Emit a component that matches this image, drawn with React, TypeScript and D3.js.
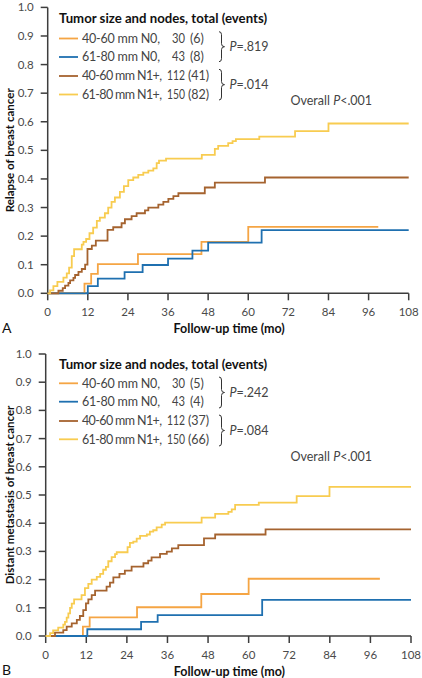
import React from 'react';
import * as d3 from 'd3';

// ---------- shared data ----------
const monthTicks = [0, 12, 24, 36, 48, 60, 72, 84, 96, 108];
const riskTicks = [0, 0.1, 0.2, 0.3, 0.4, 0.5, 0.6, 0.7, 0.8, 0.9, 1.0];
const groupLabels = ['40-60 mm N0,', '61-80 mm N0,', '40-60 mm N1+,', '61-80 mm N1+,'];
const groupTotals = [30, 43, 112, 150];
const groupColors = ['#F5A544', '#1F70B0', '#A5632F', '#F8CC50'];
const legendTitle = 'Tumor size and nodes, total (events)';
const xTitle = 'Follow-up time (mo)';

// ---------- panel A: relapse ----------
const relapseEvents = [6, 8, 41, 82];
const relapsePValues = ['.819', '.014'];
const relapseYTitle = 'Relapse of breast cancer';

const relapseSmallN0Times = [11, 13, 15, 27, 46, 60];
const relapseSmallN0Values = [0.034, 0.068, 0.102, 0.137, 0.18, 0.232];
const relapseSmallN0End = 98.9;

const relapseLargeN0Times = [12, 15, 23, 28.4, 36, 43.3, 48, 64];
const relapseLargeN0Values = [0.025, 0.051, 0.074, 0.099, 0.121, 0.149, 0.177, 0.221];
const relapseLargeN0End = 108;

const relapseSmallN1Times = [3.2, 4.5, 5.2, 6.2, 6.7, 7.7, 8.2, 9.2, 10.2, 11.2, 11.9, 13.2, 14.4, 17.9, 19.6, 22.1, 23.1, 25.1, 26.6, 29.1, 30.1, 33.1, 34.6, 36.1, 37.6, 39.1, 47, 50, 65];
const relapseSmallN1Values = [0.009, 0.018, 0.027, 0.036, 0.045, 0.054, 0.064, 0.075, 0.085, 0.1, 0.155, 0.167, 0.184, 0.222, 0.231, 0.245, 0.259, 0.27, 0.28, 0.29, 0.3, 0.31, 0.32, 0.33, 0.34, 0.35, 0.37, 0.387, 0.405];
const relapseSmallN1End = 108;

const relapseLargeN1Times = [0.7, 1.7, 2.9, 4.7, 5.7, 6.4, 7.2, 7.9, 10.2, 10.7, 11.5, 12.5, 13.6, 14.7, 15.6, 17.1, 18.1, 19.1, 20.1, 21.6, 22.8, 24.1, 25.6, 27.1, 28.6, 30.1, 31.6, 32.6, 33.3, 35.4, 46.1, 50, 51, 54, 55.3, 56.3, 63.3, 74, 84];
const relapseLargeN1Values = [0.01, 0.025, 0.04, 0.055, 0.07, 0.09, 0.13, 0.154, 0.17, 0.18, 0.19, 0.21, 0.23, 0.253, 0.265, 0.28, 0.3, 0.32, 0.335, 0.355, 0.375, 0.396, 0.405, 0.414, 0.422, 0.429, 0.437, 0.455, 0.464, 0.471, 0.484, 0.505, 0.516, 0.525, 0.532, 0.539, 0.548, 0.567, 0.594];
const relapseLargeN1End = 108;

// ---------- panel B: distant metastasis ----------
const metastasisEvents = [5, 4, 37, 66];
const metastasisPValues = ['.242', '.084'];
const metastasisYTitle = 'Distant metastasis of breast cancer';

const metaSmallN0Times = [11, 13, 27, 46, 60];
const metaSmallN0Values = [0.033, 0.066, 0.102, 0.149, 0.203];
const metaSmallN0End = 98.8;

const metaLargeN0Times = [12.3, 28.2, 33.1, 64];
const metaLargeN0Values = [0.024, 0.05, 0.074, 0.128];
const metaLargeN0End = 108;

const metaSmallN1Times = [2.75, 5.2, 6.2, 7.7, 9.2, 10.1, 11.1, 11.9, 12.6, 13.6, 14.6, 18, 19, 20, 21.8, 23.4, 25.4, 28.9, 30.3, 31.3, 33.8, 35.8, 37.3, 39.2, 46.8, 50.1, 65];
const metaSmallN1Values = [0.012, 0.021, 0.033, 0.045, 0.057, 0.071, 0.092, 0.116, 0.13, 0.145, 0.161, 0.175, 0.189, 0.208, 0.22, 0.232, 0.246, 0.258, 0.267, 0.279, 0.291, 0.299, 0.311, 0.322, 0.346, 0.36, 0.378];
const metaSmallN1End = 108;

const metaLargeN1Times = [1.3, 2.2, 3.7, 5.2, 5.7, 6.2, 6.7, 7.2, 7.7, 8.4, 10.6, 11.6, 12.6, 13.6, 15.1, 16.1, 17, 17.8, 18.5, 19.5, 20.5, 21, 24.2, 24.9, 25.9, 26.9, 27.9, 29.9, 30.8, 31.8, 32.8, 34.3, 35.3, 46.1, 50.1, 54, 55, 56, 63, 74.2, 83.9];
const metaLargeN1Values = [0.01, 0.02, 0.03, 0.04, 0.05, 0.065, 0.08, 0.1, 0.115, 0.13, 0.145, 0.17, 0.185, 0.2, 0.21, 0.22, 0.235, 0.245, 0.265, 0.28, 0.29, 0.297, 0.315, 0.33, 0.335, 0.345, 0.355, 0.36, 0.37, 0.375, 0.385, 0.395, 0.402, 0.42, 0.433, 0.44, 0.449, 0.465, 0.473, 0.496, 0.529];
const metaLargeN1End = 108;

type Series = { times: number[]; values: number[]; end: number };

const relapseSeries: Series[] = [
  { times: relapseSmallN0Times, values: relapseSmallN0Values, end: relapseSmallN0End },
  { times: relapseLargeN0Times, values: relapseLargeN0Values, end: relapseLargeN0End },
  { times: relapseSmallN1Times, values: relapseSmallN1Values, end: relapseSmallN1End },
  { times: relapseLargeN1Times, values: relapseLargeN1Values, end: relapseLargeN1End },
];
const metastasisSeries: Series[] = [
  { times: metaSmallN0Times, values: metaSmallN0Values, end: metaSmallN0End },
  { times: metaLargeN0Times, values: metaLargeN0Values, end: metaLargeN0End },
  { times: metaSmallN1Times, values: metaSmallN1Values, end: metaSmallN1End },
  { times: metaLargeN1Times, values: metaLargeN1Values, end: metaLargeN1End },
];

const FONT = "Lato, 'Open Sans', 'DejaVu Sans', sans-serif";
const labelWidths = [78, 78, 80, 80];
const totalWidths = [13, 13, 18, 18];

type Layout = {
  xLeft: number; xRight: number; yZero: number; yOne: number;
  titleY: number; rowY: number[]; braces: number[][]; overallY: number;
  xTitleY: number; letter: string; letterY: number;
};

function bracePath(x: number, ya: number, yb: number) {
  const m = (ya + yb) / 2;
  const c = x + 2.5;
  return `M${x},${ya} Q${c},${ya} ${c},${ya + 3} L${c},${m - 3} Q${c},${m} ${x + 5.5},${m} Q${c},${m} ${c},${m + 3} L${c},${yb - 3} Q${c},${yb} ${x},${yb}`;
}

function Panel({ layout, series, events, pValues, yTitle }: { layout: Layout; series: Series[]; events: number[]; pValues: string[]; yTitle: string }) {
  const x = d3.scaleLinear().domain([0, 108]).range([layout.xLeft, layout.xRight]);
  const y = d3.scaleLinear().domain([0, 1]).range([layout.yZero, layout.yOne]);
  const line = d3
    .line<[number, number]>()
    .x((d) => x(d[0]))
    .y((d) => y(d[1]))
    .curve(d3.curveStepAfter);

  const paths = series.map((s) => {
    const pts: [number, number][] = [[0, 0]];
    s.times.forEach((t, i) => pts.push([t, s.values[i]]));
    pts.push([s.end, s.values[s.values.length - 1]]);
    return line(pts) || '';
  });

  const axisColor = '#3d3d3d';
  const tickText = '#4a4a4a';
  const x0 = layout.xLeft;
  const yMid = (layout.yZero + layout.yOne) / 2;
  const xMid = (layout.xLeft + layout.xRight) / 2;
  const braceX = 219;

  return (
    <g fontFamily={FONT}>
      {/* y axis */}
      <line x1={x0} x2={x0} y1={y(1)} y2={y(0)} stroke={axisColor} strokeWidth={1.5} />
      {riskTicks.map((v) => (
        <g key={'y' + v}>
          <line x1={x0 - 7} x2={x0} y1={y(v)} y2={y(v)} stroke={axisColor} strokeWidth={1.5} />
          <text x={x0 - 14} y={y(v)} dy="0.35em" textAnchor="end" fontSize={11.5} fill={tickText}>
            {d3.format('.1f')(v)}
          </text>
        </g>
      ))}
      {/* x axis */}
      <line x1={x(0)} x2={x(108)} y1={layout.yZero} y2={layout.yZero} stroke={axisColor} strokeWidth={1.5} />
      {monthTicks.map((m) => (
        <g key={'x' + m}>
          <line x1={x(m)} x2={x(m)} y1={layout.yZero} y2={layout.yZero + 7} stroke={axisColor} strokeWidth={1.5} />
          <text x={x(m)} y={layout.yZero + 19} dy="0.35em" textAnchor="middle" fontSize={11.5} fill={tickText}>
            {m}
          </text>
        </g>
      ))}
      {/* titles */}
      <text
        transform={`translate(14,${yMid}) rotate(-90)`}
        textAnchor="middle"
        fontSize={11.5}
        fontWeight="bold"
        fill="#111"
      >
        {yTitle}
      </text>
      <text x={xMid + 1} y={layout.xTitleY} dy="0.35em" textAnchor="middle" fontSize={12.5} fontWeight="bold" fill="#111">
        {xTitle}
      </text>
      <text x={2} y={layout.letterY} fontSize={14} fill="#111">
        {layout.letter}
      </text>

      {/* curves */}
      {paths.map((d, i) => (
        <path key={'c' + i} d={d} fill="none" stroke={groupColors[i]} strokeWidth={1.8} />
      ))}

      {/* legend */}
      <text x={59} y={layout.titleY} dy="0.35em" fontSize={13.2} fontWeight="bold" fill="#111">
        {legendTitle}
      </text>
      {groupLabels.map((lab, i) => (
        <g key={'l' + i}>
          <line x1={59} x2={78} y1={layout.rowY[i]} y2={layout.rowY[i]} stroke={groupColors[i]} strokeWidth={1.8} />
          <text
            x={82}
            y={layout.rowY[i]}
            dy="0.35em"
            fontSize={12.5}
            fill="#444"
            textLength={labelWidths[i]}
            lengthAdjust="spacing"
          >
            {lab}
          </text>
          <text
            x={185 - totalWidths[i]}
            y={layout.rowY[i]}
            dy="0.35em"
            fontSize={12.5}
            fill="#444"
            textLength={totalWidths[i]}
            lengthAdjust="spacingAndGlyphs"
          >
            {groupTotals[i]}
          </text>
          <text x={events[i] < 10 ? 190 : 188} y={layout.rowY[i]} dy="0.35em" fontSize={12.5} fill="#444">
            {`(${events[i]})`}
          </text>
        </g>
      ))}
      {layout.braces.map((b, i) => (
        <g key={'b' + i}>
          <path d={bracePath(braceX, b[0], b[1])} fill="none" stroke="#333" strokeWidth={1} />
          <text x={229.5} y={(b[0] + b[1]) / 2} dy="0.35em" fontSize={12.5} fill="#444">
            <tspan fontStyle="italic">P</tspan>
            {`=${pValues[i]}`}
          </text>
        </g>
      ))}
      <text x={290.5} y={layout.overallY} dy="0.35em" fontSize={12.5} fill="#444">
        {'Overall '}
        <tspan fontStyle="italic">P</tspan>
        {'<.001'}
      </text>
    </g>
  );
}

const topLayout: Layout = {
  xLeft: 47.7, xRight: 408.7, yZero: 293.3, yOne: 7.4,
  titleY: 18.5, rowY: [38.5, 57, 76, 94.5], braces: [[31.7, 61.7], [69.3, 100]], overallY: 100.7,
  xTitleY: 329, letter: 'A', letterY: 333,
};
const bottomLayout: Layout = {
  xLeft: 45.7, xRight: 411, yZero: 636, yOne: 354,
  titleY: 364.3, rowY: [383.3, 401.7, 421, 439.3], braces: [[377, 408], [415, 446]], overallY: 456.7,
  xTitleY: 671.7, letter: 'B', letterY: 675,
};

export default function App() {
  return (
    <svg
      width={422}
      height={678}
      viewBox="0 0 422 678"
      style={{ position: 'absolute', left: 0, top: 0, background: '#fff' }}
    >
      <rect width={422} height={678} fill="#fff" />
      <Panel layout={topLayout} series={relapseSeries} events={relapseEvents} pValues={relapsePValues} yTitle={relapseYTitle} />
      <Panel layout={bottomLayout} series={metastasisSeries} events={metastasisEvents} pValues={metastasisPValues} yTitle={metastasisYTitle} />
    </svg>
  );
}
